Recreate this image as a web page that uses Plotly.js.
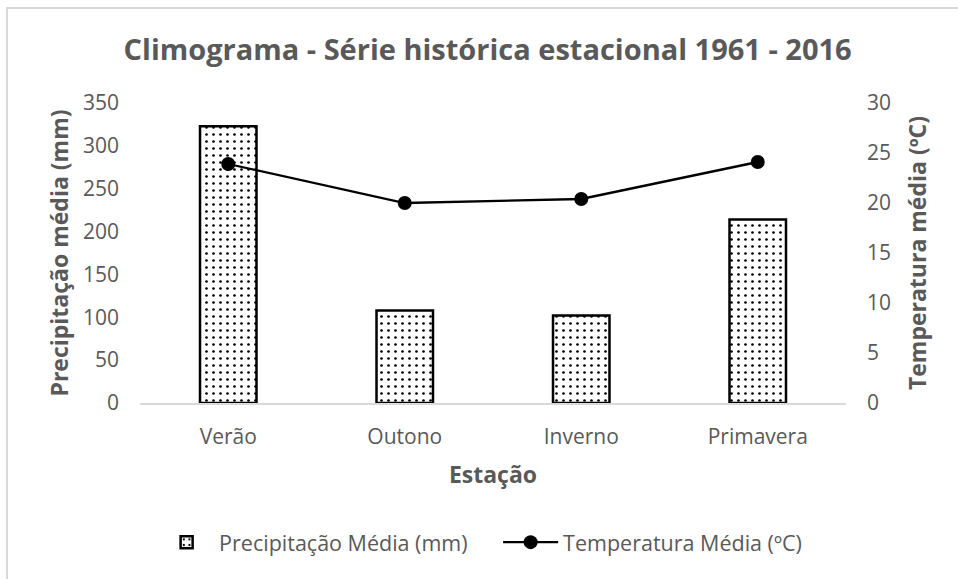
<!DOCTYPE html>
<html>
<head>
<meta charset="utf-8">
<script src="https://cdn.plot.ly/plotly-3.0.1.min.js"></script>
<style>
html,body{margin:0;padding:0;background:#fff;}
#wrap{position:relative;width:958px;height:579px;overflow:hidden;}
#chart{position:absolute;left:0;top:0;width:958px;height:579px;}
#frame{position:absolute;left:6px;top:7px;width:1000px;height:1000px;border:2px solid #d9d9d9;box-sizing:border-box;pointer-events:none;}
</style>
</head>
<body>
<div id="wrap"><div id="chart"></div><div id="frame"></div></div>
<script>
const categories = ["Verão", "Outono", "Inverno", "Primavera"];
const precipitacao = [323, 108, 102, 214];
const temperatura = [23.9, 20.0, 20.4, 24.1];
const leftTicks = [0, 50, 100, 150, 200, 250, 300, 350];
const rightTicks = [0, 5, 10, 15, 20, 25, 30];

const FONT = "'Open Sans', Lato, sans-serif";
const GREY = "#595959";

const traces = [
  {
    type: "bar",
    name: "Precipitação Média (mm)",
    x: categories,
    y: precipitacao,
    yaxis: "y",
    marker: {
      color: "white",
      line: {color: "black", width: 2.5},
      pattern: {shape: ".", fgcolor: "black", bgcolor: "white", size: 7, solidity: 0.12}
    },
    hoverinfo: "x+y"
  },
  {
    type: "scatter",
    mode: "lines+markers",
    name: "Temperatura Média (ºC)",
    x: categories,
    y: temperatura,
    yaxis: "y2",
    line: {color: "black", width: 2.3},
    marker: {color: "black", size: 14}
  }
];

const layout = {
  width: 958,
  height: 579,
  paper_bgcolor: "rgba(0,0,0,0)",
  plot_bgcolor: "rgba(0,0,0,0)",
  margin: {l: 140, r: 112, t: 103, b: 175.5, pad: 0},
  font: {family: FONT, color: GREY, size: 21},
  title: {
    text: "<b>Climograma - Série histórica estacional 1961 - 2016</b>",
    font: {family: FONT, size: 29, color: GREY},
    x: 0.509, xref: "container", xanchor: "center",
    y: 1 - 50/579, yref: "container", yanchor: "middle"
  },
  bargap: 0.68,
  showlegend: true,
  legend: {
    orientation: "h",
    x: 0.02, xanchor: "left",
    y: -0.464, yanchor: "middle",
    font: {family: FONT, size: 21.5, color: GREY},
    itemwidth: 55,
    entrywidth: 274,
    traceorder: "normal"
  },
  xaxis: {
    type: "category",
    range: [-0.5, 3.5],
    showgrid: false,
    zeroline: false,
    showline: true,
    linecolor: "#d9d9d9",
    linewidth: 1.5,
    ticks: "",
    ticklabelstandoff: 14,
    tickfont: {family: FONT, size: 21, color: GREY},
    title: {text: "<b>Estação</b>", font: {family: FONT, size: 23, color: GREY}, standoff: 18}
  },
  yaxis: {
    range: [0, 350],
    tickvals: leftTicks,
    showgrid: false,
    zeroline: false,
    showline: false,
    ticks: "",
    ticklabelstandoff: 20,
    tickfont: {family: FONT, size: 21, color: GREY},
    title: {text: "<b>Precipitação média (mm)</b>", font: {family: FONT, size: 23, color: GREY}, standoff: 7}
  },
  yaxis2: {
    overlaying: "y",
    side: "right",
    range: [0, 30],
    tickvals: rightTicks,
    showgrid: false,
    zeroline: false,
    showline: false,
    ticks: "",
    ticklabelstandoff: 20,
    tickfont: {family: FONT, size: 21, color: GREY},
    title: {text: "<b>Temperatura média (ºC)</b>", font: {family: FONT, size: 23, color: GREY}, standoff: 19}
  }
};

Plotly.newPlot("chart", traces, layout, {displayModeBar: false, staticPlot: true});
</script>
</body>
</html>
